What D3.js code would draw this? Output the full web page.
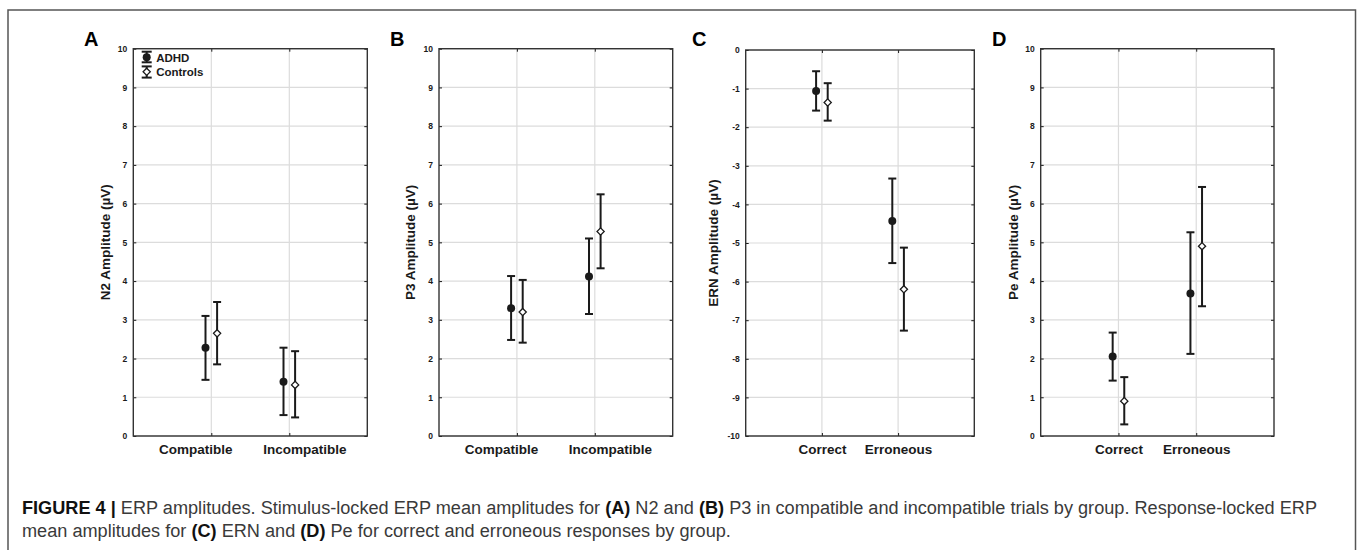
<!DOCTYPE html>
<html>
<head>
<meta charset="utf-8">
<script src="https://cdn.jsdelivr.net/npm/d3@7/dist/d3.min.js"></script>
<style>
  body { margin: 0; background: #fff; }
  svg { display: block; font-family: "Liberation Sans", Arial, sans-serif; }
</style>
</head>
<body>
<svg id="fig" width="1357" height="550"></svg>
<script>

// groups and condition labels
var groups = ["ADHD", "Controls"];
var stimCats = ["Compatible", "Incompatible"];
var respCats = ["Correct", "Erroneous"];

// values are [condition][group] -> ADHD, Controls
var n2Mean = [[2.28, 2.65], [1.40, 1.32]];
var n2Low  = [[1.45, 1.85], [0.54, 0.48]];
var n2High = [[3.10, 3.46], [2.28, 2.19]];

var p3Mean = [[3.30, 3.20], [4.12, 5.28]];
var p3Low  = [[2.48, 2.41], [3.15, 4.33]];
var p3High = [[4.13, 4.03], [5.10, 6.24]];

var ernMean = [[-1.06, -1.36], [-4.43, -6.20]];
var ernLow  = [[-1.57, -1.83], [-5.52, -7.27]];
var ernHigh = [[-0.55, -0.86], [-3.33, -5.12]];

var peMean = [[2.05, 0.90], [3.68, 4.90]];
var peLow  = [[1.43, 0.30], [2.12, 3.35]];
var peHigh = [[2.67, 1.52], [5.26, 6.43]];

var posTicks = [0, 1, 2, 3, 4, 5, 6, 7, 8, 9, 10];
var negTicks = [0, -1, -2, -3, -4, -5, -6, -7, -8, -9, -10];


// panel layout
var panels = [
	{ letter: "A", title: "N2 Amplitude (\u00b5V)", cats: stimCats, mean: n2Mean, low: n2Low, high: n2High,
	  domain: [0, 10], ticks: posTicks, left: 133.3, right: 367.3, top: 48.7, letterX: 84, titleX: 105,
	  labelShift: [-16, 15], legend: true },
	{ letter: "B", title: "P3 Amplitude (\u00b5V)", cats: stimCats, mean: p3Mean, low: p3Low, high: p3High,
	  domain: [0, 10], ticks: posTicks, left: 439, right: 672.7, top: 48.7, letterX: 390, titleX: 410,
	  labelShift: [-16, 15] },
	{ letter: "C", title: "ERN Amplitude (\u00b5V)", cats: respCats, mean: ernMean, low: ernLow, high: ernHigh,
	  domain: [-10, 0], ticks: negTicks, left: 745.7, right: 974.3, top: 50, letterX: 692, titleX: 713,
	  labelShift: [0, 0] },
	{ letter: "D", title: "Pe Amplitude (\u00b5V)", cats: respCats, mean: peMean, low: peLow, high: peHigh,
	  domain: [0, 10], ticks: posTicks, left: 1040.7, right: 1274, top: 48.7, letterX: 992, titleX: 1013,
	  labelShift: [0, 0] }
];

var BOTTOM = 436;
var OFFSET = 5.8;      // horizontal shift of the two groups
var INK = "#1a1a1a";

var svg = d3.select("#fig");

// outer frame
svg.append("rect")
	.attr("x", 8).attr("y", 10)
	.attr("width", 1347.5).attr("height", 560)
	.attr("fill", "none")
	.attr("stroke", "#555")
	.attr("stroke-width", 1.5);


function drawMarker(g, group, cx, cy) {
	if (group == 0) {
		g.append("circle")
			.attr("cx", cx).attr("cy", cy).attr("r", 4)
			.attr("fill", INK);
	} else {
		var s = 3.6;
		g.append("path")
			.attr("d", "M" + cx + "," + (cy - s) + "L" + (cx + s) + "," + cy +
				"L" + cx + "," + (cy + s) + "L" + (cx - s) + "," + cy + "Z")
			.attr("fill", "#fff")
			.attr("stroke", INK)
			.attr("stroke-width", 1.3);
	}
}

function errorBar(g, cx, y1, y2, half) {
	g.append("line")
		.attr("x1", cx).attr("x2", cx).attr("y1", y1).attr("y2", y2)
		.attr("stroke", INK).attr("stroke-width", 2);
	[y1, y2].forEach(function(yy) {
		g.append("line")
			.attr("x1", cx - half).attr("x2", cx + half).attr("y1", yy).attr("y2", yy)
			.attr("stroke", INK).attr("stroke-width", 2);
	});
}


panels.forEach(function(p) {

	var g = svg.append("g");

	var x = d3.scalePoint()
		.domain(p.cats)
		.range([p.left, p.right])
		.padding(1);

	var y = d3.scaleLinear()
		.domain(p.domain)
		.range([BOTTOM, p.top]);

	// grid
	g.selectAll(".hgrid")
		.data(p.ticks)
		.enter().append("line")
		.attr("x1", p.left).attr("x2", p.right)
		.attr("y1", function(d) { return y(d); })
		.attr("y2", function(d) { return y(d); })
		.attr("stroke", "#dcdcdc").attr("stroke-width", 1.2);

	g.selectAll(".vgrid")
		.data(p.cats)
		.enter().append("line")
		.attr("x1", function(d) { return x(d); })
		.attr("x2", function(d) { return x(d); })
		.attr("y1", p.top).attr("y2", BOTTOM)
		.attr("stroke", "#dcdcdc").attr("stroke-width", 1.2);

	// axes with inward ticks
	var fmt = function(d) { return String(d); };

	var left = g.append("g")
		.attr("transform", "translate(" + p.left + ",0)")
		.call(d3.axisLeft(y).tickValues(p.ticks).tickFormat(fmt).tickSizeInner(-3).tickSizeOuter(0).tickPadding(6));

	left.selectAll("text")
		.style("font-size", "8.5px")
		.style("font-weight", "bold")
		.attr("fill", INK);

	g.append("g")
		.attr("transform", "translate(" + p.right + ",0)")
		.call(d3.axisRight(y).tickValues(p.ticks).tickFormat("").tickSizeInner(-3).tickSizeOuter(0));

	g.append("g")
		.attr("transform", "translate(0," + p.top + ")")
		.call(d3.axisTop(x).tickFormat("").tickSizeInner(-3).tickSizeOuter(0));

	var bottom = g.append("g")
		.attr("transform", "translate(0," + BOTTOM + ")")
		.call(d3.axisBottom(x).tickSizeInner(-3).tickSizeOuter(0).tickPadding(8));

	bottom.selectAll("text")
		.style("font-size", "13.5px")
		.style("font-weight", "bold")
		.attr("fill", INK)
		.attr("dx", function(d, i) { return p.labelShift[i]; });

	g.selectAll(".domain").remove();
	g.selectAll(".tick line").attr("stroke", INK).attr("stroke-width", 1);

	// plot frame
	g.append("rect")
		.attr("x", p.left).attr("y", p.top)
		.attr("width", p.right - p.left).attr("height", BOTTOM - p.top)
		.attr("fill", "none")
		.attr("stroke", "#333")
		.attr("stroke-width", 1.4);

	// error bars and means
	p.cats.forEach(function(c, ci) {
		groups.forEach(function(grp, gi) {
			var cx = x(c) + (gi == 0 ? -OFFSET : OFFSET);
			errorBar(g, cx, y(p.low[ci][gi]), y(p.high[ci][gi]), 4);
			drawMarker(g, gi, cx, y(p.mean[ci][gi]));
		});
	});

	// panel letter
	g.append("text")
		.attr("x", p.letterX).attr("y", 46)
		.style("font-size", "20px")
		.style("font-weight", "bold")
		.attr("fill", "#000")
		.text(p.letter);

	// y title
	g.append("text")
		.attr("transform", "translate(" + (p.titleX + 5) + "," + ((p.top + BOTTOM) / 2) + ") rotate(-90)")
		.attr("text-anchor", "middle")
		.style("font-size", "13.5px")
		.style("font-weight", "bold")
		.attr("fill", INK)
		.text(p.title);

	// legend
	if (p.legend) {
		var lx = p.left + 13.4;
		var rows = [[51.7, 62.3, 57.2, 61.5], [66.4, 77.6, 71.8, 76]];
		groups.forEach(function(grp, gi) {
			var r = rows[gi];
			errorBar(g, lx, r[0], r[1], 5);
			drawMarker(g, gi, lx, r[2]);
			g.append("text")
				.attr("x", lx + 9.5).attr("y", r[3])
				.style("font-size", "11.5px")
				.style("font-weight", "bold")
				.attr("fill", INK)
				.text(grp);
		});
	}
});


// caption
var captionLines = [
	[["FIGURE 4 |", true], [" ERP amplitudes. Stimulus-locked ERP mean amplitudes for ", false], ["(A)", true],
	 [" N2 and ", false], ["(B)", true], [" P3 in compatible and incompatible trials by group. Response-locked ERP", false]],
	[["mean amplitudes for ", false], ["(C)", true], [" ERN and ", false], ["(D)", true],
	 [" Pe for correct and erroneous responses by group.", false]]
];

var caption = svg.append("g");
var lines = caption.selectAll("text")
	.data(captionLines)
	.enter().append("text")
	.attr("x", 22)
	.attr("y", function(d, i) { return 514 + i * 22.5; })
	.style("font-size", "16px")
	.attr("fill", "#3a3a3a");

lines.selectAll("tspan")
	.data(function(d) { return d; })
	.enter().append("tspan")
	.style("font-weight", function(d) { return d[1] ? "bold" : "normal"; })
	.attr("fill", function(d) { return d[1] ? "#111" : "#3a3a3a"; })
	.text(function(d) { return d[0]; });

// fit first line to the width of the reference
var w = lines.nodes()[0].getComputedTextLength();
var fs = 16 * 1296 / w;
lines.style("font-size", fs + "px");

</script>
</body>
</html>
